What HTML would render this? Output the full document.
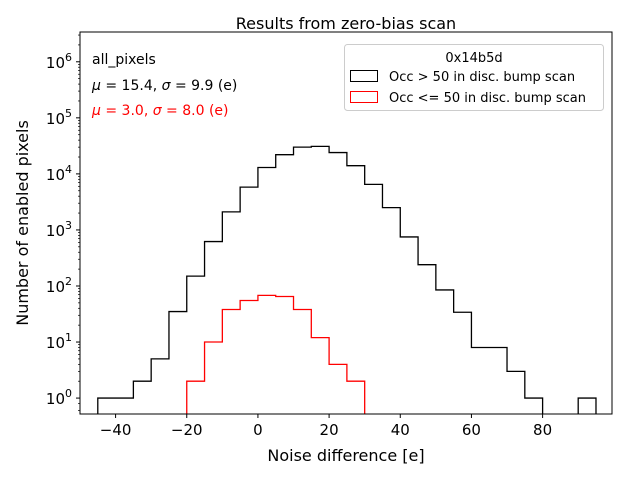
<!DOCTYPE html>
<html><head><meta charset="utf-8"><style>
body{margin:0;background:#fff}
svg{font-family:"DejaVu Sans","Liberation Sans",sans-serif}
</style></head><body>
<svg id="c" width="640" height="480" viewBox="0 0 640 480" xmlns="http://www.w3.org/2000/svg">
<rect width="640" height="480" fill="#fff"/>
<text x="346" y="29" text-anchor="middle" font-size="16">Results from zero-bias scan</text>
<g id="plot"></g>
<rect x="80" y="32" width="532" height="382" fill="none" stroke="#000" stroke-width="1"/>
<text x="92" y="64" font-size="14">all_pixels</text>
<text x="92" y="90" font-size="14"><tspan font-style="italic">μ</tspan> = 15.4, <tspan font-style="italic">σ</tspan> = 9.9 (e)</text>
<text x="92" y="115" font-size="14" fill="#f00"><tspan font-style="italic">μ</tspan> = 3.0, <tspan font-style="italic">σ</tspan> = 8.0 (e)</text>
<g>
<rect x="344.5" y="44.5" width="259" height="66" rx="3" fill="#fff" stroke="#ccc"/>
<text x="474" y="62" text-anchor="middle" font-size="13">0x14b5d</text>
<rect x="350.5" y="70.5" width="27" height="11" fill="none" stroke="#000"/>
<text x="389" y="81" font-size="13">Occ &gt; 50 in disc. bump scan</text>
<rect x="350.5" y="91.5" width="27" height="11" fill="none" stroke="#f00"/>
<text x="389" y="102" font-size="13">Occ &lt;= 50 in disc. bump scan</text>
</g>
<text x="346" y="461" text-anchor="middle" font-size="16">Noise difference [e]</text>
<text transform="translate(28,223) rotate(-90)" text-anchor="middle" font-size="16">Number of enabled pixels</text>
</svg>
<script>
const binEdges=[-45,-40,-35,-30,-25,-20,-15,-10,-5,0,5,10,15,20,25,30,35,40,45,50,55,60,65,70,75,80,85,90,95];
const blackCounts=[1,1,2,5,35,150,620,2100,5800,13000,22000,30000,31000,24000,14000,6500,2500,750,240,85,34,8,8,3,1,0,0,1];
const redEdges=[-20,-15,-10,-5,0,5,10,15,20,25,30];
const redCounts=[2,10,38,55,68,65,38,12,4,2];
const xTicks=[-40,-20,0,20,40,60,80];
const yTicks=[0,1,2,3,4,5,6];
const X0=80,X1=612,Y0=414,Y1=32,xmin=-50,xmax=99.5,ymin=Math.log10(0.52),ymax=Math.log10(3.4e6);
const sx=v=>X0+(v-xmin)/(xmax-xmin)*(X1-X0);
const sy=v=>v<=0?Y0+5:Y0-(Math.log10(v)-ymin)/(ymax-ymin)*(Y0-Y1);
const NS="http://www.w3.org/2000/svg";
const g=document.getElementById('plot');
function mk(t,a){const e=document.createElementNS(NS,t);for(const k in a)e.setAttribute(k,a[k]);g.appendChild(e);return e;}
function step(edges,counts,color,name){
  let d=`M${sx(edges[0])},${Y0+5}`;
  counts.forEach((c,i)=>{d+=` L${sx(edges[i])},${sy(c)} L${sx(edges[i+1])},${sy(c)}`;});
  d+=` L${sx(edges[edges.length-1])},${Y0+5}`;
  const p=mk('path',{d,fill:'none',stroke:color,'stroke-width':1.3,'clip-path':'url(#clp)'});
  
  
}
const defs=mk('defs',{});const cp=document.createElementNS(NS,'clipPath');cp.setAttribute('id','clp');
const cr=document.createElementNS(NS,'rect');cr.setAttribute('x',X0);cr.setAttribute('y',Y1);cr.setAttribute('width',X1-X0);cr.setAttribute('height',Y0-Y1);cp.appendChild(cr);defs.appendChild(cp);
step(binEdges,blackCounts,'#000','black-histogram');
step(redEdges,redCounts,'#f00','red-histogram');
xTicks.forEach(t=>{
  const x=sx(t);
  mk('line',{x1:x,x2:x,y1:Y0,y2:Y0+4,stroke:'#000'});
  const tx=mk('text',{x:x,y:Y0+21,'text-anchor':'middle','font-size':15});
  tx.textContent=(t<0?'\u2212':'')+Math.abs(t);
  
  
});
yTicks.forEach(p=>{
  const y=sy(Math.pow(10,p));
  mk('line',{x1:X0-4,x2:X0,y1:y,y2:y,stroke:'#000'});
  for(let m=2;m<10;m++){const yy=sy(m*Math.pow(10,p));if(yy>Y1)mk('line',{x1:X0-2,x2:X0,y1:yy,y2:yy,stroke:'#000','stroke-width':0.7});}
  const tx=mk('text',{x:X0-8,y:y+6,'text-anchor':'end','font-size':15});
  tx.innerHTML=`10<tspan dy="-7" font-size="11">${p}</tspan>`;
  
  
});
mk('line',{x1:X0-2,x2:X0,y1:sy(0.6),y2:sy(0.6),stroke:'#000','stroke-width':0.7});
mk('line',{x1:X0-2,x2:X0,y1:sy(0.8),y2:sy(0.8),stroke:'#000','stroke-width':0.7});
</script>
</body></html>
